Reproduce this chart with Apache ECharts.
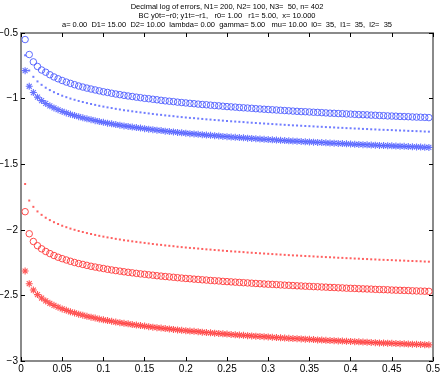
<!DOCTYPE html>
<html>
<head>
<meta charset="utf-8">
<script src="https://cdn.jsdelivr.net/npm/echarts@6/dist/echarts.min.js"></script>
<style>
  html, body { margin: 0; padding: 0; background: #fff; }
  #chart { width: 443px; height: 374px; }
</style>
</head>
<body>
<div id="chart"></div>
<script>
// x positions (step 0.005)
const xs = [0.005,0.01,0.015,0.02,0.025,0.03,0.035,0.04,0.045,0.05,
  0.055,0.06,0.065,0.07,0.075,0.08,0.085,0.09,0.095,0.1,
  0.105,0.11,0.115,0.12,0.125,0.13,0.135,0.14,0.145,0.15,
  0.155,0.16,0.165,0.17,0.175,0.18,0.185,0.19,0.195,0.2,
  0.205,0.21,0.215,0.22,0.225,0.23,0.235,0.24,0.245,0.25,
  0.255,0.26,0.265,0.27,0.275,0.28,0.285,0.29,0.295,0.3,
  0.305,0.31,0.315,0.32,0.325,0.33,0.335,0.34,0.345,0.35,
  0.355,0.36,0.365,0.37,0.375,0.38,0.385,0.39,0.395,0.4,
  0.405,0.41,0.415,0.42,0.425,0.43,0.435,0.44,0.445,0.45,
  0.455,0.46,0.465,0.47,0.475,0.48,0.485,0.49,0.495];

// blue circles
const blueCircles = [-0.550,-0.664,-0.720,-0.755,-0.782,-0.799,-0.818,-0.835,-0.849,-0.862,
  -0.874,-0.884,-0.894,-0.904,-0.912,-0.920,-0.927,-0.934,-0.941,-0.948,
  -0.953,-0.959,-0.965,-0.970,-0.975,-0.980,-0.984,-0.989,-0.993,-0.998,
  -1.001,-1.005,-1.009,-1.013,-1.017,-1.020,-1.023,-1.027,-1.030,-1.033,
  -1.036,-1.039,-1.042,-1.045,-1.047,-1.050,-1.053,-1.055,-1.058,-1.061,
  -1.063,-1.065,-1.068,-1.070,-1.072,-1.074,-1.077,-1.079,-1.081,-1.083,
  -1.085,-1.087,-1.089,-1.091,-1.093,-1.095,-1.097,-1.099,-1.100,-1.102,
  -1.104,-1.105,-1.107,-1.109,-1.111,-1.112,-1.114,-1.115,-1.117,-1.118,
  -1.120,-1.122,-1.123,-1.124,-1.126,-1.127,-1.129,-1.130,-1.132,-1.133,
  -1.134,-1.136,-1.137,-1.138,-1.140,-1.141,-1.142,-1.143,-1.145];

// blue dots
const blueDots = [-0.670,-0.786,-0.834,-0.869,-0.895,-0.917,-0.935,-0.951,-0.965,-0.978,
  -0.989,-1.000,-1.009,-1.018,-1.026,-1.034,-1.041,-1.048,-1.055,-1.061,
  -1.067,-1.072,-1.078,-1.083,-1.088,-1.092,-1.097,-1.101,-1.105,-1.109,
  -1.113,-1.117,-1.121,-1.124,-1.128,-1.131,-1.134,-1.138,-1.141,-1.144,
  -1.147,-1.149,-1.152,-1.155,-1.158,-1.160,-1.163,-1.165,-1.168,-1.170,
  -1.173,-1.175,-1.177,-1.179,-1.182,-1.184,-1.186,-1.188,-1.190,-1.192,
  -1.194,-1.196,-1.198,-1.200,-1.202,-1.204,-1.205,-1.207,-1.209,-1.210,
  -1.212,-1.214,-1.215,-1.217,-1.219,-1.220,-1.222,-1.223,-1.225,-1.226,
  -1.228,-1.229,-1.231,-1.232,-1.234,-1.235,-1.237,-1.238,-1.239,-1.240,
  -1.242,-1.243,-1.244,-1.246,-1.247,-1.248,-1.249,-1.251,-1.252];

// blue stars
const blueStars = [-0.787,-0.906,-0.954,-0.989,-1.015,-1.037,-1.055,-1.071,-1.085,-1.098,
  -1.109,-1.120,-1.129,-1.138,-1.146,-1.154,-1.161,-1.168,-1.175,-1.181,
  -1.187,-1.192,-1.198,-1.203,-1.208,-1.212,-1.217,-1.221,-1.225,-1.229,
  -1.233,-1.237,-1.241,-1.244,-1.248,-1.251,-1.254,-1.258,-1.261,-1.264,
  -1.267,-1.269,-1.272,-1.275,-1.278,-1.280,-1.283,-1.285,-1.288,-1.290,
  -1.293,-1.295,-1.297,-1.299,-1.302,-1.304,-1.306,-1.308,-1.310,-1.312,
  -1.314,-1.316,-1.318,-1.320,-1.322,-1.324,-1.325,-1.327,-1.329,-1.330,
  -1.332,-1.334,-1.335,-1.337,-1.339,-1.340,-1.342,-1.343,-1.345,-1.346,
  -1.348,-1.349,-1.351,-1.352,-1.354,-1.355,-1.357,-1.358,-1.359,-1.360,
  -1.362,-1.363,-1.364,-1.366,-1.367,-1.368,-1.369,-1.371,-1.372];

// red dots
const redDots = [-1.651,-1.777,-1.825,-1.860,-1.886,-1.908,-1.926,-1.942,-1.956,-1.969,
  -1.980,-1.991,-2.000,-2.009,-2.017,-2.025,-2.032,-2.039,-2.046,-2.052,
  -2.058,-2.063,-2.069,-2.074,-2.079,-2.083,-2.088,-2.092,-2.096,-2.100,
  -2.104,-2.108,-2.112,-2.115,-2.119,-2.122,-2.125,-2.129,-2.132,-2.135,
  -2.138,-2.140,-2.143,-2.146,-2.149,-2.151,-2.154,-2.156,-2.159,-2.161,
  -2.164,-2.166,-2.168,-2.170,-2.173,-2.175,-2.177,-2.179,-2.181,-2.183,
  -2.185,-2.187,-2.189,-2.191,-2.193,-2.195,-2.196,-2.198,-2.200,-2.201,
  -2.203,-2.205,-2.206,-2.208,-2.210,-2.211,-2.213,-2.214,-2.216,-2.217,
  -2.219,-2.220,-2.222,-2.223,-2.225,-2.226,-2.228,-2.229,-2.230,-2.231,
  -2.233,-2.234,-2.235,-2.237,-2.238,-2.239,-2.240,-2.242,-2.243];

// red circles
const redCircles = [-1.862,-2.030,-2.089,-2.121,-2.145,-2.165,-2.181,-2.196,-2.209,-2.220,
  -2.230,-2.240,-2.249,-2.257,-2.264,-2.271,-2.278,-2.284,-2.290,-2.295,
  -2.301,-2.306,-2.311,-2.315,-2.320,-2.324,-2.328,-2.332,-2.336,-2.339,
  -2.343,-2.346,-2.350,-2.353,-2.356,-2.359,-2.362,-2.365,-2.368,-2.371,
  -2.373,-2.376,-2.378,-2.381,-2.383,-2.386,-2.388,-2.390,-2.393,-2.395,
  -2.397,-2.399,-2.401,-2.403,-2.405,-2.407,-2.409,-2.411,-2.413,-2.415,
  -2.416,-2.418,-2.420,-2.422,-2.423,-2.425,-2.427,-2.428,-2.430,-2.431,
  -2.433,-2.434,-2.436,-2.437,-2.439,-2.440,-2.442,-2.443,-2.445,-2.446,
  -2.447,-2.449,-2.450,-2.451,-2.452,-2.454,-2.455,-2.456,-2.457,-2.459,
  -2.460,-2.461,-2.462,-2.463,-2.465,-2.466,-2.467,-2.468,-2.469];

// red stars
const redStars = [-2.314,-2.411,-2.459,-2.494,-2.520,-2.542,-2.560,-2.576,-2.590,-2.603,
  -2.614,-2.625,-2.634,-2.643,-2.651,-2.659,-2.666,-2.673,-2.680,-2.686,
  -2.692,-2.697,-2.703,-2.708,-2.713,-2.717,-2.722,-2.726,-2.730,-2.734,
  -2.738,-2.742,-2.746,-2.749,-2.753,-2.756,-2.759,-2.763,-2.766,-2.769,
  -2.772,-2.774,-2.777,-2.780,-2.783,-2.785,-2.788,-2.790,-2.793,-2.795,
  -2.798,-2.800,-2.802,-2.804,-2.807,-2.809,-2.811,-2.813,-2.815,-2.817,
  -2.819,-2.821,-2.823,-2.825,-2.827,-2.829,-2.830,-2.832,-2.834,-2.835,
  -2.837,-2.839,-2.840,-2.842,-2.844,-2.845,-2.847,-2.848,-2.850,-2.851,
  -2.853,-2.854,-2.856,-2.857,-2.859,-2.860,-2.862,-2.863,-2.864,-2.865,
  -2.867,-2.868,-2.869,-2.871,-2.872,-2.873,-2.874,-2.876,-2.877];

const titleLines = [
  'Decimal log of errors, N1= 200, N2= 100, N3=  50, n= 402',
  'BC y0t=\u2212r0; y1t=\u2212r1,   r0= 1.00   r1= 5.00,  x= 10.000',
  'a= 0.00  D1= 15.00  D2= 10.00  lambda= 0.00  gamma= 5.00   mu= 10.00  l0=  35,  l1=  35,  l2=  35'
];

const BLUE = '#4d5cff';
const RED = '#ff3838';
const FONT = 'Liberation Sans, Arial, sans-serif';
// asterisk marker
const STAR = 'path://M-0.8,-5L0.8,-5L0.8,5L-0.8,5Z M-5,-0.8L5,-0.8L5,0.8L-5,0.8Z M-4.1,-3L-3,-4.1L4.1,3L3,4.1Z M3,-4.1L4.1,-3L-3,4.1L-4.1,3Z';

const pairs = (ys) => ys.map((y, i) => [xs[i], y]);
const minus = (v) => String(v).replace('-', '\u2212');

const circleSeries = (ys, color) => ({
  type: 'scatter', data: pairs(ys), symbol: 'circle', symbolSize: 6.5,
  itemStyle: { color: 'transparent', borderColor: color, borderWidth: 1, opacity: 0.9 },
  silent: true
});
const dotSeries = (ys, color) => ({
  type: 'scatter', data: pairs(ys), symbol: 'rect', symbolSize: 2,
  itemStyle: { color: color }, silent: true
});
const starSeries = (ys, color) => ({
  type: 'scatter', data: pairs(ys), symbol: STAR, symbolSize: 7,
  itemStyle: { color: color, opacity: 0.85 }, silent: true
});

const chart = echarts.init(document.getElementById('chart'), null, { renderer: 'canvas' });

const axisCommon = {
  axisLine: { show: true, onZero: false, lineStyle: { color: '#8a8a8a', width: 2 } },
  axisTick: { show: true, inside: true, length: 4, lineStyle: { color: '#000', width: 1 } },
  splitLine: { show: false }
};

chart.setOption({
  animation: false,
  backgroundColor: '#fff',
  title: {
    text: titleLines.join('\n'),
    left: 227, top: 2, textAlign: 'center', padding: 0,
    textStyle: { fontFamily: FONT, fontSize: 7.5, fontWeight: 'normal', color: '#000', lineHeight: 9 }
  },
  grid: { left: 21, right: 10, top: 33, bottom: 13, containLabel: false, outerBoundsMode: 'none' },
  xAxis: [
    Object.assign({}, axisCommon, {
      type: 'value', min: 0, max: 0.5, interval: 0.05, position: 'bottom',
      axisLabel: { fontFamily: FONT, fontSize: 10, color: '#000', margin: 3 }
    }),
    Object.assign({}, axisCommon, {
      type: 'value', min: 0, max: 0.5, interval: 0.05, position: 'top',
      axisLabel: { show: false }
    })
  ],
  yAxis: [
    Object.assign({}, axisCommon, {
      type: 'value', min: -3, max: -0.5, interval: 0.5, position: 'left',
      axisLabel: { fontFamily: FONT, fontSize: 10, color: '#000', margin: 3, formatter: minus }
    }),
    Object.assign({}, axisCommon, {
      type: 'value', min: -3, max: -0.5, interval: 0.5, position: 'right',
      axisLabel: { show: false }
    })
  ],
  series: [
    circleSeries(blueCircles, BLUE),
    dotSeries(blueDots, BLUE),
    starSeries(blueStars, BLUE),
    dotSeries(redDots, RED),
    circleSeries(redCircles, RED),
    starSeries(redStars, RED)
  ]
});
</script>
</body>
</html>
